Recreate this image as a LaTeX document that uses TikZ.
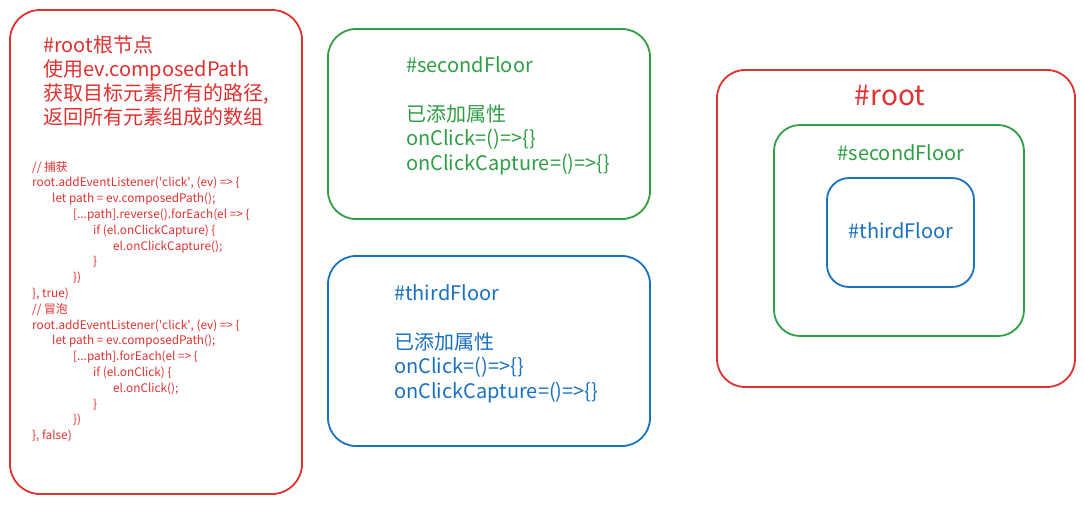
\documentclass[tikz,border=0pt]{standalone}
\usepackage{fontspec}
\newfontfamily\hand{Noto Sans CJK SC}
\definecolor{xred}{HTML}{E03131}
\definecolor{xgreen}{HTML}{2F9E44}
\definecolor{xblue}{HTML}{1971C2}
\tikzset{
  box/.style={draw, line width=1.8pt, inner sep=0pt, fill=none},
  ln/.style={anchor=base west, inner sep=0pt},
  cl/.style={anchor=base, inner sep=0pt},
  codeln/.style={ln, text=xred, font=\hand\fontsize{11.8}{14}\selectfont},
  big/.style={font=\hand\fontsize{20}{24}\selectfont},
}
\begin{document}
\begin{tikzpicture}[x=1pt,y=-1pt]
\useasboundingbox (0,0) rectangle (1084,504);
\fill[white] (0,0) rectangle (1084,504);

% boxes
\node[box, draw=xred, minimum width=292pt, minimum height=484pt, rounded corners=30pt] (leftbox) at (156,252) {};
\node[box, draw=xgreen, minimum width=322pt, minimum height=190pt, rounded corners=28pt] (gbox) at (489,124) {};
\node[box, draw=xblue, minimum width=322pt, minimum height=190pt, rounded corners=28pt] (bbox) at (489,351) {};
\node[box, draw=xred, minimum width=358pt, minimum height=317pt, rounded corners=28pt] (rootbox) at (896,228.5) {};
\node[box, draw=xgreen, minimum width=250pt, minimum height=211pt, rounded corners=26pt] (secbox) at (899,230.5) {};
\node[box, draw=xblue, minimum width=147pt, minimum height=109pt, rounded corners=22pt] (thirdbox) at (900.5,232.5) {};

% left title
\node[ln, big, text=xred] (t1) at (43,52) {\#root根节点};
\node[ln, big, text=xred] (t2) at (43,76) {使用ev.composedPath};
\node[ln, big, text=xred] (t3) at (43,100) {获取目标元素所有的路径,};
\node[ln, big, text=xred] (t4) at (43,124) {返回所有元素组成的数组};

% code
\node[codeln] (c1) at (32,171) {// 捕获};
\node[codeln] (c2) at (32,186.8) {root.addEventListener(\textquotesingle click\textquotesingle, (ev) => \{};
\node[codeln] (c3) at (52,202.6) {let path = ev.composedPath();};
\node[codeln] (c4) at (73,218.4) {[...path].reverse().forEach(el => \{};
\node[codeln] (c5) at (93,234.2) {if (el.onClickCapture) \{};
\node[codeln] (c6) at (113,250) {el.onClickCapture();};
\node[codeln] (c7) at (93,265.8) {\}};
\node[codeln] (c8) at (73,281.6) {\})};
\node[codeln] (c9) at (32,297.4) {\}, true)};
\node[codeln] (c10) at (32,313.2) {// 冒泡};
\node[codeln] (c11) at (32,329) {root.addEventListener(\textquotesingle click\textquotesingle, (ev) => \{};
\node[codeln] (c12) at (52,344.8) {let path = ev.composedPath();};
\node[codeln] (c13) at (73,360.6) {[...path].forEach(el => \{};
\node[codeln] (c14) at (93,376.4) {if (el.onClick) \{};
\node[codeln] (c15) at (113,392.2) {el.onClick();};
\node[codeln] (c16) at (93,408) {\}};
\node[codeln] (c17) at (73,423.8) {\})};
\node[codeln] (c18) at (32,439.6) {\}, false)};

% green middle box text
\node[ln, big, text=xgreen] (g1) at (406,72) {\#secondFloor};
\node[ln, big, text=xgreen] (g2) at (406,121) {已添加属性};
\node[ln, big, text=xgreen] (g3) at (406,145.5) {onClick=()=>\{\}};
\node[ln, big, text=xgreen] (g4) at (406,170) {onClickCapture=()=>\{\}};

% blue middle box text
\node[ln, big, text=xblue] (b1) at (394,300) {\#thirdFloor};
\node[ln, big, text=xblue] (b2) at (394,349) {已添加属性};
\node[ln, big, text=xblue] (b3) at (394,373.5) {onClick=()=>\{\}};
\node[ln, big, text=xblue] (b4) at (394,398) {onClickCapture=()=>\{\}};

% right nested labels
\node[cl, text=xred, font=\hand\fontsize{28}{30}\selectfont] (rl) at (890,105) {\#root};
\node[cl, big, text=xgreen] (sl) at (901,160) {\#secondFloor};
\node[cl, big, text=xblue] (tl) at (901,238) {\#thirdFloor};
\end{tikzpicture}
\end{document}
